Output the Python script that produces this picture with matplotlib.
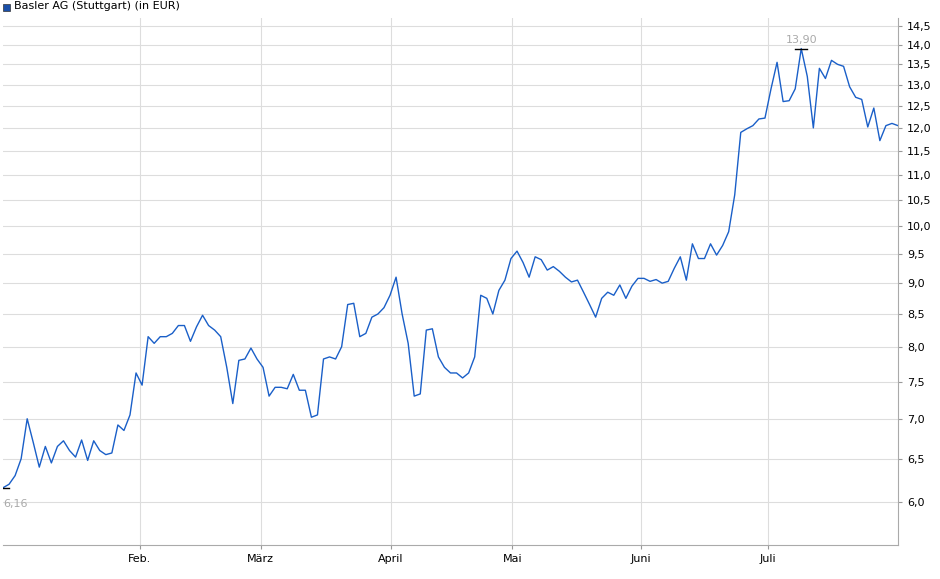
import numpy as np
import matplotlib.pyplot as plt
from matplotlib.ticker import FixedLocator, NullLocator

# Basler AG (Stuttgart) closing prices in EUR
prices = [6.16, 6.2, 6.3, 6.5, 7.0, 6.7, 6.4, 6.65, 6.45, 6.65, 6.72, 6.6, 6.52, 6.73, 6.48,
          6.72, 6.6, 6.55, 6.57, 6.92, 6.85, 7.05, 7.62, 7.45, 8.15, 8.05, 8.15, 8.15, 8.2,
          8.32, 8.32, 8.08, 8.3, 8.48, 8.32, 8.25, 8.15, 7.7, 7.2, 7.8, 7.82, 7.98, 7.82, 7.7,
          7.3, 7.42, 7.42, 7.4, 7.6, 7.38, 7.38, 7.02, 7.05, 7.82, 7.85, 7.82, 8.0, 8.65, 8.67,
          8.15, 8.2, 8.45, 8.5, 8.6, 8.8, 9.1, 8.5, 8.05, 7.3, 7.33, 8.25, 8.27, 7.85, 7.7,
          7.62, 7.62, 7.55, 7.62, 7.85, 8.8, 8.75, 8.5, 8.88, 9.05, 9.42, 9.55, 9.35, 9.1,
          9.45, 9.4, 9.22, 9.28, 9.2, 9.1, 9.02, 9.05, 8.85, 8.65, 8.45, 8.75, 8.85, 8.8, 8.97,
          8.75, 8.95, 9.08, 9.08, 9.03, 9.06, 9.0, 9.03, 9.25, 9.45, 9.05, 9.68, 9.42, 9.42,
          9.68, 9.48, 9.65, 9.9, 10.6, 11.9, 11.98, 12.05, 12.2, 12.22, 12.9, 13.55, 12.6,
          12.62, 12.9, 13.9, 13.2, 12.0, 13.4, 13.15, 13.6, 13.5, 13.45, 12.95, 12.7, 12.65,
          12.02, 12.45, 11.72, 12.05, 12.1, 12.05]
months = ["Feb.", "März", "April", "Mai", "Juni", "Juli"]
month_frac = [0.153, 0.288, 0.433, 0.569, 0.713, 0.855]  # share of the time span
yticks = [6.0, 6.5, 7.0, 7.5, 8.0, 8.5, 9.0, 9.5, 10.0, 10.5, 11.0, 11.5,
          12.0, 12.5, 13.0, 13.5, 14.0, 14.5]

n = len(prices)
x = np.arange(n)
month_pos = [f * (n - 1) for f in month_frac]

fig = plt.figure(figsize=(9.4, 5.79), dpi=100)
ax = fig.add_axes([3/940, 1 - 545/579, 895/940, 527/579])
ax.plot(x, prices, color="#1a5fc8", lw=1.0)
ax.set_yscale("log")
ax.set_ylim(5.54, 14.71)
ax.set_xlim(0, n - 1)

ax.yaxis.set_major_locator(FixedLocator(yticks))
ax.yaxis.set_minor_locator(NullLocator())
ax.set_yticklabels([f"{v:.1f}".replace(".", ",") for v in yticks])
ax.yaxis.tick_right()
ax.set_xticks(month_pos)
ax.set_xticklabels(months)
ax.tick_params(labelsize=8, length=3, color="#999999")
ax.grid(True, color="#dddddd", lw=0.8)
for s in ["top", "left"]:
    ax.spines[s].set_visible(False)
for s in ["bottom", "right"]:
    ax.spines[s].set_color("#aaaaaa")

# min / max markers
imin, imax = int(np.argmin(prices)), int(np.argmax(prices))
ax.plot([imin - 1, imin + 1], [prices[imin]] * 2, color="black", lw=1)
ax.plot([imax - 1, imax + 1], [prices[imax]] * 2, color="black", lw=1)
ax.annotate(f"{prices[imin]:.2f}".replace(".", ","), (imin, prices[imin]),
            xytext=(0, -14), textcoords="offset points", fontsize=8, color="#aaaaaa")
ax.annotate(f"{prices[imax]:.2f}".replace(".", ","), (imax, prices[imax]),
            xytext=(0, 4), textcoords="offset points", ha="center", fontsize=8, color="#aaaaaa")

fig.patches.append(plt.Rectangle((3/940, 1 - 11/579), 7/940, 7/579, transform=fig.transFigure,
                                 facecolor="#1a4fa8", edgecolor="#333333", lw=0.5))
fig.text(14/940, 1 - 6/579, "Basler AG (Stuttgart) (in EUR)", fontsize=8, va="center")

fig.savefig("out.png", dpi=100)
